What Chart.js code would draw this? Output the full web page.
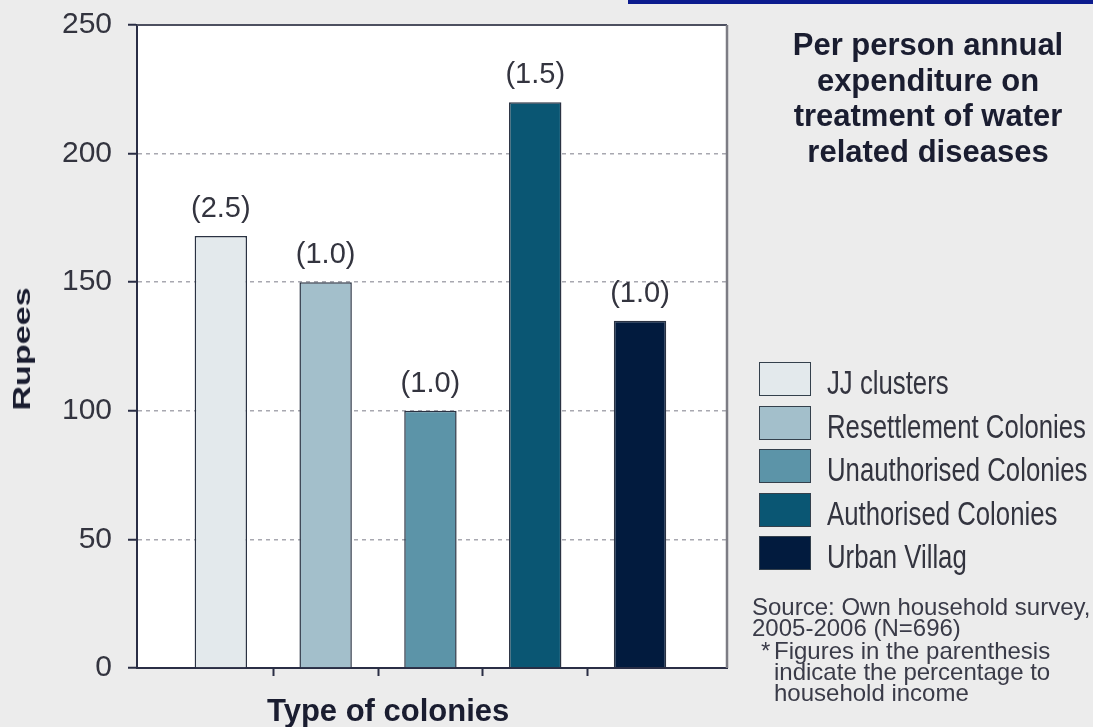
<!DOCTYPE html>
<html>
<head>
<meta charset="utf-8">
<title>Per person annual expenditure on treatment of water related diseases</title>
<script src="https://cdn.jsdelivr.net/npm/chart.js@4.4.1/dist/chart.umd.min.js"></script>
<style>
body { margin: 0; background: #ececec; font-family: "Liberation Sans", Arial, sans-serif; }
#wrap { position: relative; width: 1093px; height: 727px; overflow: hidden; }
#bar-chart { position: absolute; left: 0; top: 0; }
#topbar { position: absolute; left: 628px; top: 0; width: 465px; height: 4px; background: #0c1b8e; }
#title { position: absolute; left: 728px; top: 27px; width: 400px; text-align: center;
  font-weight: bold; font-size: 31px; line-height: 35.5px; color: #1a1d30; }
#ytitle { position: absolute; left: 21.7px; top: 348.5px; font-weight: bold; font-size: 24px; line-height: 24px;
  color: #1a1d30; white-space: nowrap; transform: translate(-50%, -50%) rotate(-90deg) scaleX(1.42); }
#xtitle { position: absolute; left: 267px; top: 696px; font-weight: bold; font-size: 31px; line-height: 30px;
  color: #1a1d30; white-space: nowrap; }
#legend { position: absolute; left: 759px; top: 362px; }
.row { position: absolute; left: 0; width: 340px; height: 35px; }
.box { position: absolute; left: 0; top: 0; width: 50px; height: 32px; border: 1.5px solid #34404c; }
.lbl { position: absolute; left: 68px; top: 3px; font-size: 33px; line-height: 35px; color: #33343f;
  white-space: nowrap; transform: scaleX(0.78); transform-origin: left center; }
#notes { position: absolute; left: 752px; top: 596px; font-size: 24px; line-height: 21px; color: #3a3b48; white-space: nowrap; }
#notes p { margin: 0; }
#notes .star { position: relative; padding-left: 22px; margin-top: 2px; }
#notes .star span { position: absolute; left: 9px; top: 0; }
</style>
</head>
<body>
<div id="wrap">
  <canvas id="bar-chart" width="1093" height="727"></canvas>
  <div id="topbar"></div>
  <div id="title">Per person annual<br>expenditure on<br>treatment of water<br>related diseases</div>
  <div id="ytitle">Rupees</div>
  <div id="xtitle">Type of colonies</div>
  <div id="legend"></div>
  <div id="notes">
    <p>Source: Own household survey,<br>2005-2006 (N=696)</p>
    <p class="star"><span>*</span>Figures in the parenthesis<br>indicate the percentage to<br>household income</p>
  </div>
</div>
<script>
// chart values
var categories = ["JJ clusters", "Resettlement Colonies", "Unauthorised Colonies", "Authorised Colonies", "Urban Villag"];
var expenditure = [168, 150, 100, 220, 135];
var incomeShare = [2.5, 1.0, 1.0, 1.5, 1.0];
var yTicks = [0, 50, 100, 150, 200, 250];
var barColors = ["#e3e9ec", "#a3bfcb", "#5c94a8", "#0a5673", "#021b3e"];

// gets canvas element
var ctx = document.getElementById('bar-chart').getContext('2d');

// white plot area with top and right frame lines
var framePlugin = {
    id: 'frame',
    beforeDraw: function(chart) {
        var a = chart.chartArea, c = chart.ctx;
        c.save();
        c.fillStyle = '#ffffff';
        c.fillRect(a.left, a.top, a.right - a.left, a.bottom - a.top);
        c.restore();
    },
    afterDraw: function(chart) {
        var a = chart.chartArea, c = chart.ctx;
        c.save();
        c.lineWidth = 2;
        c.strokeStyle = '#4d5060';
        c.beginPath();
        c.moveTo(a.left, a.top);
        c.lineTo(a.right, a.top);
        c.stroke();
        c.strokeStyle = '#7c7c84';
        c.lineWidth = 2.5;
        c.beginPath();
        c.moveTo(a.right, a.top);
        c.lineTo(a.right, a.bottom);
        c.stroke();
        c.restore();
    }
};

// percentage of income above each bar
var labelPlugin = {
    id: 'shareLabels',
    afterDatasetsDraw: function(chart) {
        var c = chart.ctx;
        c.save();
        c.font = '29px "Liberation Sans", Arial, sans-serif';
        c.fillStyle = '#33343f';
        c.textAlign = 'center';
        c.textBaseline = 'alphabetic';
        chart.getDatasetMeta(0).data.forEach(function(bar, i) {
            c.fillText('(' + incomeShare[i].toFixed(1) + ')', bar.x, bar.y - 19);
        });
        c.restore();
    }
};

function getPoints() {
    var points = [];
    for (var i = 0; i < expenditure.length; i++) {
        points.push({x: i + 1, y: expenditure[i]});
    }
    return points;
}

// separators sit halfway between neighbouring categories
function getSeparators() {
    var seps = [];
    for (var i = 1; i < categories.length; i++) {
        seps.push({value: i + 0.5});
    }
    return seps;
}

var axisColor = '#2a2e45';

var myChart = new Chart(ctx, {
    type: 'bar',
    data: {
        datasets: [{
            label: 'Rupees',
            data: getPoints(),
            backgroundColor: barColors,
            borderColor: '#2a3242',
            borderWidth: 1.5,
            barPercentage: 0.5,
            categoryPercentage: 1
        }]
    },
    options: {
        responsive: false,
        animation: false,
        layout: { padding: { top: 25, right: 366 } },
        plugins: {
            legend: { display: false },
            tooltip: { enabled: false }
        },
        scales: {
            x: {
                type: 'linear',
                offset: false,
                bounds: 'data',
                min: 0.2,
                max: 5.83,
                afterDataLimits: function(s) { s.min = 0.2; s.max = 5.83; },
                afterBuildTicks: function(s) { s.ticks = getSeparators(); s.min = 0.2; s.max = 5.83; },
                afterFit: function(s) { s.height = 59; s.paddingLeft = 0; s.paddingRight = 0; },
                ticks: { callback: function() { return ''; } },
                grid: { offset: false, drawOnChartArea: false, tickLength: 8, tickWidth: 2, tickColor: axisColor },
                border: { color: axisColor, width: 2 }
            },
            y: {
                min: 0,
                max: 250,
                afterBuildTicks: function(s) { s.ticks = yTicks.map(function(v) { return {value: v}; }); },
                afterFit: function(s) { s.width = 137; s.paddingTop = 0; s.paddingBottom = 0; },
                ticks: {
                    font: { family: '"Liberation Sans", Arial, sans-serif', size: 30 },
                    color: '#33343f',
                    padding: 16
                },
                grid: {
                    color: function(c) {
                        var v = c.tick ? c.tick.value : null;
                        return (v === 0 || v === 250) ? 'rgba(0,0,0,0)' : '#a8a8b0';
                    },
                    lineWidth: 1.5,
                    tickLength: 9,
                    tickWidth: 2,
                    tickColor: axisColor
                },
                border: { color: axisColor, width: 2, dash: [4, 4] }
            }
        }
    },
    plugins: [framePlugin, labelPlugin]
});

// legend built from the same categories and colours
var legend = document.getElementById('legend');
categories.forEach(function(name, i) {
    var row = document.createElement('div');
    row.className = 'row';
    row.style.top = (i * 43.6) + 'px';
    var box = document.createElement('div');
    box.className = 'box';
    box.style.background = barColors[i];
    var lbl = document.createElement('span');
    lbl.className = 'lbl';
    lbl.textContent = name;
    row.appendChild(box);
    row.appendChild(lbl);
    legend.appendChild(row);
});
</script>
</body>
</html>
